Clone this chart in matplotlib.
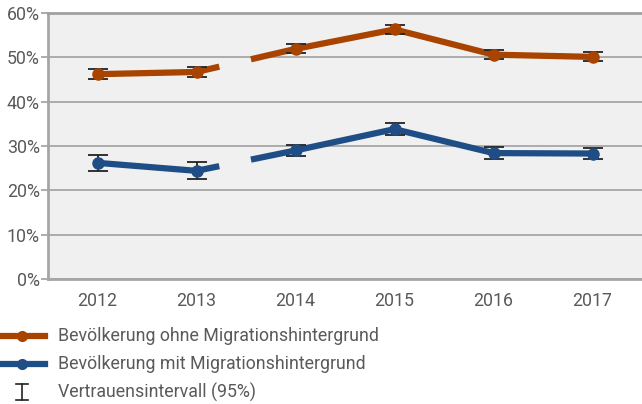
import matplotlib
matplotlib.use("Agg")
import matplotlib.pyplot as plt
import numpy as np
from matplotlib.lines import Line2D

plt.rcParams['font.family'] = ['Roboto', 'DejaVu Sans']

years = ["2012", "2013", "2014", "2015", "2016", "2017"]
ohne = [46.2, 46.7, 51.9, 56.3, 50.6, 50.1]
ohne_err = [1.1, 1.1, 1.0, 1.0, 1.0, 1.0]
mit = [26.2, 24.4, 29.0, 33.8, 28.4, 28.3]
mit_err = [1.8, 1.9, 1.3, 1.3, 1.3, 1.3]
y_ticks = [0, 10, 20, 30, 40, 50, 60]
legend_labels = ["Bevölkerung ohne Migrationshintergrund",
                 "Bevölkerung mit Migrationshintergrund",
                 "Vertrauensintervall (95%)"]

c_ohne = "#A84300"
c_mit = "#1F4E86"
grey_text = "#5A5A5A"
fs = 12.8

fig = plt.figure(figsize=(6.42, 4.04), dpi=100)
ax = fig.add_axes([48/642, 1-279/404, (642-48)/642, (279-13)/404])
ax.set_facecolor("#F0F0F0")

x = np.arange(len(years))
brk = 1  # break between index 1 (2013) and 2 (2014)
f_end, f_start = 0.23, 0.55

def draw(vals, errs, color):
    v = np.array(vals, float)
    xa = list(x[:brk+1]) + [brk + f_end]
    ya = list(v[:brk+1]) + [v[brk] + f_end*(v[brk+1]-v[brk])]
    xb = [brk + f_start] + list(x[brk+1:])
    yb = [v[brk] + f_start*(v[brk+1]-v[brk])] + list(v[brk+1:])
    ax.plot(xa, ya, color=color, lw=4.5, solid_capstyle='butt', zorder=3)
    ax.plot(xb, yb, color=color, lw=4.5, solid_capstyle='butt', zorder=3)
    ax.errorbar(x, v, yerr=errs, fmt='o', color=color, ms=8, ecolor="#222222",
                elinewidth=1.3, capsize=7, capthick=1.3, zorder=4)

draw(ohne, ohne_err, c_ohne)
draw(mit, mit_err, c_mit)

ax.set_xlim(-0.5, 5.5)
ax.set_ylim(0, 60)
ax.set_yticks(y_ticks)
ax.set_yticklabels([f"{t}%" for t in y_ticks])
ax.set_xticks(x)
ax.set_xticklabels(years)
ax.yaxis.grid(True, color="#A6A6A6", lw=1.3)
ax.set_axisbelow(True)
ax.spines["right"].set_visible(False)
ax.spines["top"].set_color("#A0A0A0")
ax.spines["top"].set_linewidth(2)
ax.spines["left"].set_color("#A6A6A6")
ax.spines["left"].set_linewidth(2)
ax.spines["bottom"].set_color("#A6A6A6")
ax.spines["bottom"].set_linewidth(2)
ax.tick_params(axis='y', length=5, color="#A6A6A6", width=1.3, labelsize=fs,
               labelcolor=grey_text, pad=1)
ax.tick_params(axis='x', length=0, labelsize=fs, labelcolor=grey_text, pad=9)

# legend
leg_y = [336, 364, 392]
for i, (lab, col) in enumerate(zip(legend_labels[:2], [c_ohne, c_mit])):
    yy = 1 - leg_y[i]/404
    fig.add_artist(Line2D([0, 45/642], [yy, yy], color=col, lw=4.5,
                          transform=fig.transFigure))
    fig.add_artist(Line2D([22.5/642], [yy], marker='o', color=col, ms=7,
                          transform=fig.transFigure))
    fig.text(58/642, yy, lab, fontsize=fs, color=grey_text, va='center', ha='left')
yy = 1 - leg_y[2]/404
xc = 22/642
h = 8/404
w = 6/642
fig.add_artist(Line2D([xc, xc], [yy-h, yy+h], color="#222222", lw=1.2, transform=fig.transFigure))
fig.add_artist(Line2D([xc-w, xc+w], [yy+h, yy+h], color="#222222", lw=1.2, transform=fig.transFigure))
fig.add_artist(Line2D([xc-w, xc+w], [yy-h, yy-h], color="#222222", lw=1.2, transform=fig.transFigure))
fig.text(58/642, yy, legend_labels[2], fontsize=fs, color=grey_text, va='center', ha='left')

fig.savefig("out.png", dpi=100)
